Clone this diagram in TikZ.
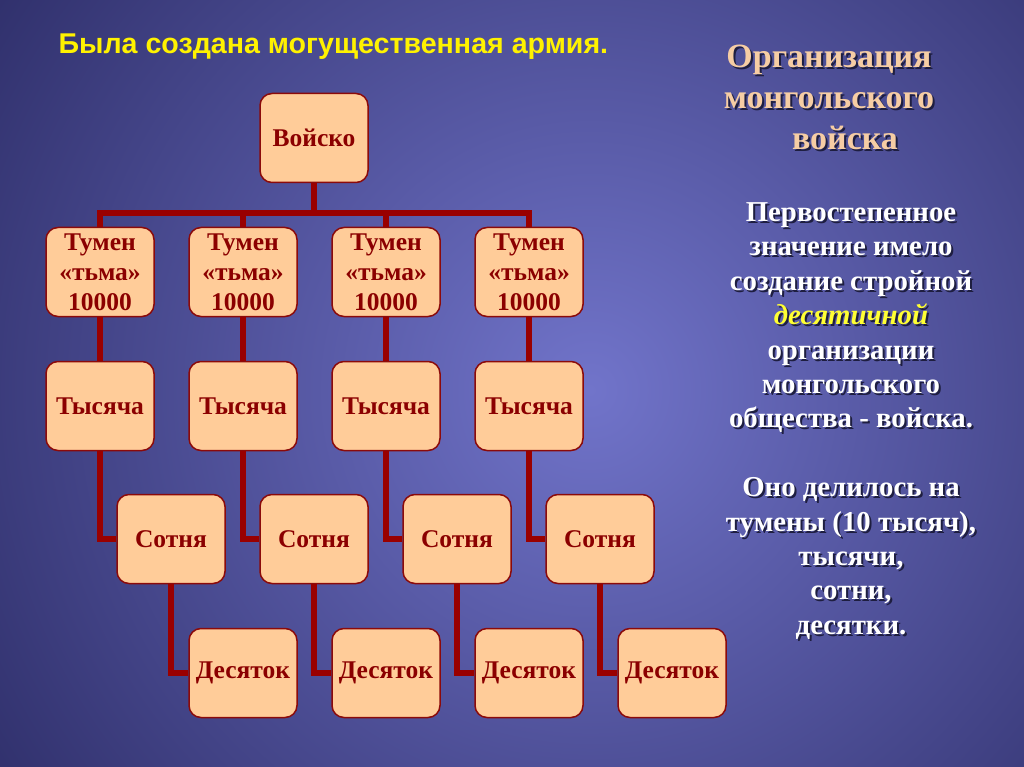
\documentclass[tikz,border=0pt]{standalone}
\usepackage{fontspec}
\setmainfont{Liberation Serif}
\newfontfamily\arialf{Liberation Sans}
\definecolor{bgin}{HTML}{7174CA}
\definecolor{bgout}{HTML}{2C2C66}
\definecolor{boxfill}{HTML}{FFCC99}
\definecolor{boxline}{HTML}{8B0A0A}
\definecolor{boxtext}{HTML}{8B0000}
\definecolor{linkc}{HTML}{990000}
\definecolor{titlec}{HTML}{F6CDA4}
\definecolor{shadowc}{HTML}{1E1E40}
\definecolor{hiyellow}{HTML}{FFFF33}
\begin{document}
\begin{tikzpicture}[x=1pt,y=-1pt,
  box/.style={draw=boxline, line width=1.5pt, fill=boxfill, rounded corners=12pt,
    minimum width=108pt, minimum height=89pt, align=center, inner sep=0pt,
    text=boxtext, font=\bfseries\fontsize{25.5}{30}\selectfont},
  link/.style={draw=linkc, line width=6pt},
  title/.style={align=center, font=\bfseries\fontsize{34}{41}\selectfont},
  body/.style={align=center, font=\bfseries\fontsize{28.8}{34.4}\selectfont}
]
\useasboundingbox (0,0) rectangle (1024,767);
\begin{scope}
  \clip (0,0) rectangle (1024,767);
  \fill[bgout] (0,0) rectangle (1024,767);
  \shade[inner color=bgin, outer color=bgout] (590,390) circle (760);
\end{scope}

% header
\node[anchor=west, text=yellow, font=\arialf\bfseries\fontsize{28.6}{32}\selectfont] (hdr) at (55,47) {Была создана могущественная армия.};

% title
\node[title, text=shadowc] (titsh) at (831,99) {Организация\\монгольского\\\hspace*{32pt}войска};
\node[title, text=titlec] (tit) at (829,97) {Организация\\монгольского\\\hspace*{32pt}войска};

% body
\node[body, text=shadowc] (bodysh) at (853,423) {Первостепенное\\значение имело\\создание стройной\\\textit{десятичной}\\организации\\монгольского\\общества - войска.\\[34.4pt]Оно делилось на\\тумены (10 тысяч),\\тысячи,\\сотни,\\десятки.};
\node[body, text=white] (body) at (851,421) {Первостепенное\\значение имело\\создание стройной\\\textit{\color{hiyellow}десятичной}\\организации\\монгольского\\общества - войска.\\[34.4pt]Оно делилось на\\тумены (10 тысяч),\\тысячи,\\сотни,\\десятки.};

% boxes
\node[box] (v) at (314,138) {Войско};
\foreach \i/\x in {1/100,2/243,3/386,4/529}{
  \node[box] (t\i) at (\x,272) {Тумен\\«тьма»\\10000};
  \node[box] (k\i) at (\x,406) {Тысяча};
  \node[box] (s\i) at (\x+71,539) {Сотня};
  \node[box] (d\i) at (\x+143,673) {Десяток};
}
\coordinate (j) at (314,213);
\draw[link] (v.south) -- (j);
\foreach \i in {1,2,3,4}{
  \draw[link] (j) -| (t\i.north);
  \draw[link] (t\i.south) -- (k\i.north);
  \draw[link] (k\i.south) |- (s\i.west);
  \draw[link] (s\i.south) |- (d\i.west);
}
\end{tikzpicture}
\end{document}
